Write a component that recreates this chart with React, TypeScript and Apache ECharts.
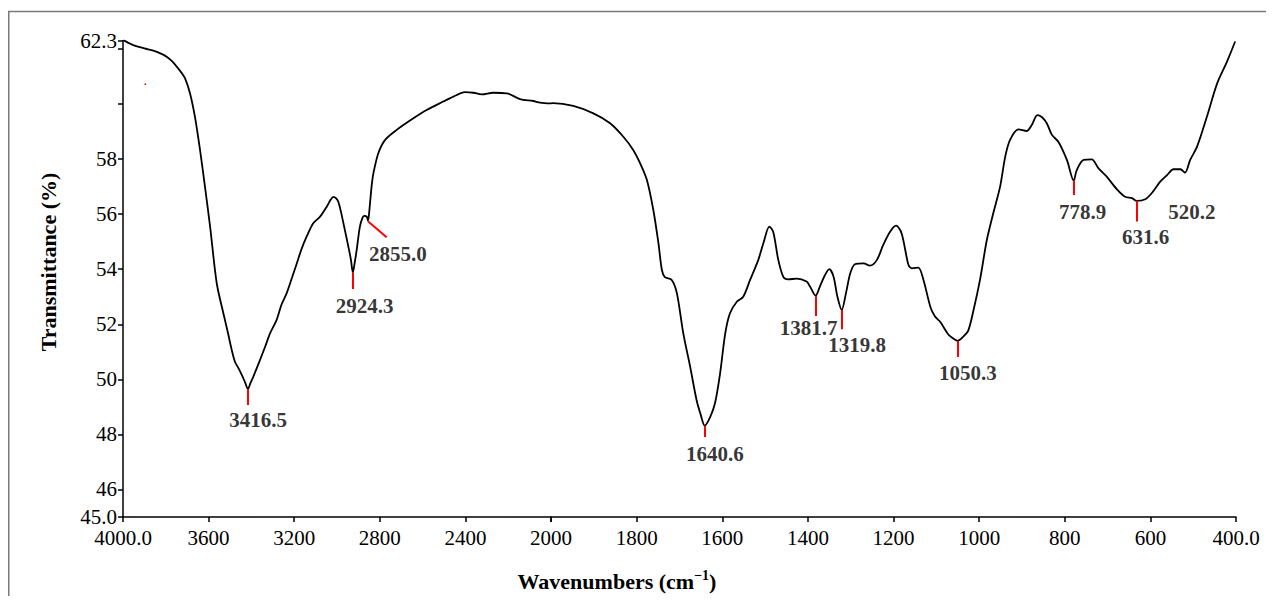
import React, { useEffect, useRef } from 'react';
import * as echarts from 'echarts';

// Spectrum, 4000–2000 cm-1 (compressed scale region)
const highWavenumbers = [
  4000, 3975, 3952, 3900, 3858, 3820, 3796, 3770, 3749, 3728, 3710, 3687, 3664, 3640, 3617, 3593,
  3562, 3531, 3510, 3492, 3477, 3460, 3445, 3430, 3416, 3405, 3391, 3360, 3335, 3313, 3282, 3260,
  3235, 3210, 3188, 3165, 3142, 3111, 3079, 3048, 3030, 3017, 3005, 2994, 2982, 2970, 2947, 2935,
  2926, 2918, 2908, 2893, 2880, 2872, 2861, 2855, 2848, 2843, 2837, 2830, 2807, 2776, 2721, 2643,
  2581, 2503, 2456, 2402, 2363, 2324, 2270, 2207, 2145, 2083, 2051, 2000,
];
const highTransmittance = [
  62.33, 62.22, 62.14, 62.02, 61.94, 61.82, 61.72, 61.55, 61.36, 61.15, 60.93, 60.39, 59.54, 58.33, 57.0, 55.55,
  53.49, 52.4, 51.7, 51.07, 50.64, 50.4, 50.16, 49.9, 49.65, 49.85, 50.1, 50.7, 51.2, 51.67, 52.16, 52.7,
  53.13, 53.7, 54.21, 54.75, 55.18, 55.67, 55.91, 56.27, 56.52, 56.63, 56.58, 56.45, 56.1, 55.67, 54.82, 54.35,
  53.88, 54.2, 54.7, 55.55, 55.88, 55.94, 55.91, 55.76, 56.2, 56.63, 57.1, 57.48, 58.21, 58.69, 59.06, 59.48,
  59.78, 60.09, 60.27, 60.43, 60.41, 60.35, 60.41, 60.39, 60.18, 60.11, 60.05, 60.02,
];

// Spectrum, 2000–400 cm-1 (expanded scale region)
const lowWavenumbers = [
  2000, 1995, 1948, 1901, 1862, 1831, 1808, 1792, 1776, 1761, 1749, 1741, 1734, 1718, 1706, 1691,
  1675, 1660, 1650, 1641, 1628, 1617, 1605, 1593, 1582, 1566, 1551, 1535, 1516, 1504, 1490, 1481,
  1469, 1457, 1446, 1426, 1403, 1395, 1382, 1372, 1360, 1350, 1340, 1331, 1321, 1311, 1301, 1290,
  1270, 1255, 1239, 1224, 1208, 1194, 1181, 1165, 1157, 1142, 1130, 1114, 1103, 1091, 1072, 1060,
  1050, 1037, 1025, 1013, 998, 982, 967, 951, 939, 928, 908, 889, 877, 864, 853, 842,
  830, 815, 795, 779, 772, 756, 737, 721, 702, 678, 659, 643, 632, 612, 597, 577,
  561, 546, 530, 519, 507, 491, 468, 444, 421, 402,
];
const lowTransmittance = [
  60.02, 60.03, 59.93, 59.66, 59.3, 58.81, 58.33, 57.85, 57.24, 56.15, 54.94, 53.97, 53.71, 53.61, 53.13, 51.67,
  50.46, 49.25, 48.7, 48.32, 48.64, 49.13, 50.22, 51.67, 52.4, 52.82, 53.0, 53.61, 54.33, 54.94, 55.55, 55.36,
  54.33, 53.71, 53.63, 53.66, 53.55, 53.37, 53.04, 53.37, 53.79, 54.0, 53.73, 53.0, 52.52, 53.13, 53.85, 54.18,
  54.21, 54.13, 54.33, 54.88, 55.36, 55.58, 55.3, 54.15, 54.03, 54.06, 53.61, 52.64, 52.28, 52.09, 51.63, 51.48,
  51.4, 51.55, 51.79, 52.52, 53.61, 55.06, 56.03, 57.0, 58.09, 58.69, 59.08, 59.02, 59.24, 59.6, 59.52, 59.3,
  58.88, 58.63, 57.97, 57.22, 57.6, 57.97, 57.99, 57.66, 57.36, 56.9, 56.63, 56.58, 56.48, 56.54, 56.76, 57.18,
  57.42, 57.63, 57.63, 57.51, 57.97, 58.45, 59.54, 60.75, 61.54, 62.27,
];

// Peak annotations
const peakLabels = ['3416.5', '2924.3', '2855.0', '1640.6', '1381.7', '1319.8', '1050.3', '778.9', '631.6', '520.2'];
const labelWavenumbers = [3369, 2871, 2716, 1617, 1398, 1285, 1026, 758, 611, 503];
const labelTransmittance = [48.52, 52.68, 54.56, 47.29, 51.87, 51.24, 50.23, 56.09, 55.16, 56.08];

// Red marker segments
const markerStartWavenumbers = [3416.5, 2924.3, 2854.3, 1640.6, 1381.7, 1319.8, 1050.3, 778.9, 631.6];
const markerStartTransmittance = [49.65, 53.87, 55.73, 48.31, 53.03, 52.52, 51.39, 57.22, 56.49];
const markerEndWavenumbers = [3416.5, 2924.3, 2768, 1640.6, 1381.7, 1319.8, 1050.3, 778.9, 631.6];
const markerEndTransmittance = [49.07, 53.28, 55.16, 47.91, 52.3, 51.82, 50.81, 56.7, 55.73];

// Axis ticks
const yTickValues = [45, 46, 48, 50, 52, 54, 56, 58, 60, 62, 62.3];
const yLabelValues = [45, 46, 48, 50, 52, 54, 56, 58, 62.3];
const SPLIT = 2000;

const FONT = '"Liberation Serif", "Times New Roman", Times, serif';

export default function App() {
  const ref = useRef<HTMLDivElement>(null);

  useEffect(() => {
    if (!ref.current) return;
    const chart = echarts.init(ref.current, undefined, { renderer: 'svg' });

    const highData = highWavenumbers.map((w, i) => [w, highTransmittance[i]]);
    const lowData = lowWavenumbers.map((w, i) => [w, lowTransmittance[i]]);

    const markHigh: any[] = [];
    const markLow: any[] = [];
    markerStartWavenumbers.forEach((w, i) => {
      const seg = [
        { coord: [w, markerStartTransmittance[i]] },
        { coord: [markerEndWavenumbers[i], markerEndTransmittance[i]] },
      ];
      if (w >= SPLIT) markHigh.push(seg);
      else markLow.push(seg);
    });

    const labHigh: any[] = [];
    const labLow: any[] = [];
    peakLabels.forEach((name, i) => {
      const item = { name, value: [labelWavenumbers[i], labelTransmittance[i]] };
      if (labelWavenumbers[i] >= SPLIT) labHigh.push(item);
      else labLow.push(item);
    });

    const gridTop = 32.7;
    const gridHeight = 476.3;

    const axisLineStyle = { color: '#000', width: 1.5 };
    const tickLabel = { color: '#000', fontSize: 21, fontFamily: FONT };

    const markLineCfg = (data: any[]) => ({
      silent: true,
      symbol: ['none', 'none'],
      label: { show: false },
      lineStyle: { color: '#ff0000', width: 2, type: 'solid' },
      emphasis: { disabled: true },
      data,
    });

    const labelSeries = (data: any[], idx: number) => ({
      type: 'scatter',
      xAxisIndex: idx,
      yAxisIndex: idx,
      symbolSize: 1,
      itemStyle: { color: 'rgba(0,0,0,0)' },
      silent: true,
      label: {
        show: true,
        position: 'inside',
        formatter: '{b}',
        color: '#000',
        textBorderWidth: 0,
        fontSize: 21,
        fontWeight: 'bold',
        fontFamily: FONT,
      },
      data,
    });

    const lineSeries = (data: any[], idx: number, marks: any[]) => ({
      type: 'line',
      xAxisIndex: idx,
      yAxisIndex: idx,
      data,
      showSymbol: false,
      symbol: 'none',
      smooth: 0.3,
      lineStyle: { color: '#000', width: 1.8 },
      silent: true,
      markLine: markLineCfg(marks),
    });

    chart.setOption({
      animation: false,
      backgroundColor: '#fff',
      grid: [
        { left: 115, top: gridTop, width: 428, height: gridHeight },
        { left: 543, top: gridTop, width: 685, height: gridHeight },
      ],
      xAxis: [
        {
          type: 'value',
          gridIndex: 0,
          min: 2000,
          max: 4000,
          interval: 400,
          inverse: true,
          axisLine: { show: true, onZero: false, lineStyle: axisLineStyle },
          axisTick: { show: true, inside: false, length: 5, lineStyle: axisLineStyle },
          axisLabel: {
            ...tickLabel,
            margin: 10,
            showMinLabel: true,
            showMaxLabel: true,
            formatter: (v: number) => (v === 4000 ? '4000.0' : String(v)),
          },
          splitLine: { show: false },
        },
        {
          type: 'value',
          gridIndex: 1,
          min: 400,
          max: 2000,
          interval: 200,
          inverse: true,
          axisLine: { show: true, onZero: false, lineStyle: axisLineStyle },
          axisTick: { show: true, inside: false, length: 5, lineStyle: axisLineStyle },
          axisLabel: {
            ...tickLabel,
            margin: 10,
            showMinLabel: true,
            showMaxLabel: true,
            formatter: (v: number) => (v === 2000 ? '' : v === 400 ? '400.0' : String(v)),
          },
          splitLine: { show: false },
        },
      ],
      yAxis: [
        {
          type: 'value',
          gridIndex: 0,
          min: 45,
          max: 62.3,
          axisLine: { show: true, onZero: false, lineStyle: axisLineStyle },
          axisTick: {
            show: true,
            inside: false,
            length: 5,
            lineStyle: axisLineStyle,
            customValues: yTickValues,
          },
          axisLabel: {
            ...tickLabel,
            margin: 6,
            customValues: yLabelValues,
            formatter: (v: number) => (v === 45 ? '45.0' : v === 62.3 ? '62.3' : String(v)),
          },
          splitLine: { show: false },
        },
        {
          type: 'value',
          gridIndex: 1,
          min: 45,
          max: 62.3,
          show: false,
          splitLine: { show: false },
        },
      ],
      series: [
        lineSeries(highData, 0, markHigh),
        lineSeries(lowData, 1, markLow),
        labelSeries(labHigh, 0),
        labelSeries(labLow, 1),
      ],
      graphic: [
        {
          type: 'line',
          shape: { x1: 0, y1: 3.5, x2: 1258, y2: 3.5 },
          style: { stroke: '#7a7a7a', lineWidth: 1.5 },
          silent: true,
        },
        {
          type: 'line',
          shape: { x1: 0.75, y1: 3, x2: 0.75, y2: 588 },
          style: { stroke: '#7a7a7a', lineWidth: 1.5 },
          silent: true,
        },
        {
          type: 'rect',
          shape: { x: 136.5, y: 75.5, width: 1.5, height: 1.5 },
          style: { fill: '#ff0000' },
          silent: true,
        },
        {
          type: 'text',
          x: 40,
          y: 254,
          rotation: Math.PI / 2,
          style: {
            text: 'Transmittance (%)',
            fill: '#000',
            font: `bold 22px ${FONT}`,
            align: 'center',
            verticalAlign: 'middle',
          },
          silent: true,
        },
        {
          type: 'text',
          x: 609,
          y: 573,
          style: {
            text: '{a|Wavenumbers (cm}{s|−1}{a|)}',
            fill: '#000',
            align: 'center',
            verticalAlign: 'middle',
            rich: {
              a: { fontSize: 22, fontWeight: 'bold', fontFamily: FONT, fill: '#000', lineHeight: 26 },
              s: { fontSize: 14, fontWeight: 'bold', fontFamily: FONT, fill: '#000', lineHeight: 26, verticalAlign: 'top', padding: [0, 0, 9, 0] },
            },
          },
          silent: true,
        },
      ],
    });

    return () => chart.dispose();
  }, []);

  return <div ref={ref} style={{ width: 1258, height: 588 }} />;
}
